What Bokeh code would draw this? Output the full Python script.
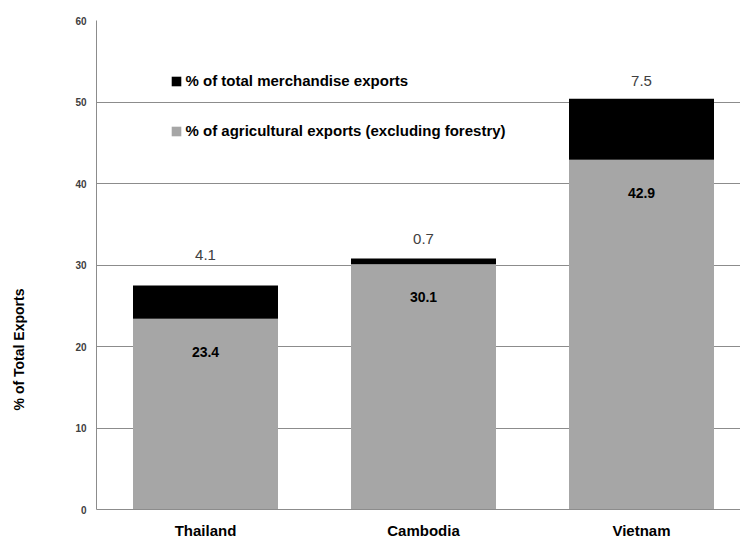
import math

from bokeh.core.properties import value
from bokeh.embed import file_html
from bokeh.layouts import row
from bokeh.models import (ColumnDataSource, FixedTicker, LabelSet, Legend,
                          LegendItem, Range1d)
from bokeh.plotting import figure
from bokeh.resources import INLINE

# Export shares by country (% of total exports)
countries = ["Thailand", "Cambodia", "Vietnam"]
agricultural = [23.4, 30.1, 42.9]   # % of agricultural exports (excluding forestry)
merchandise = [4.1, 0.7, 7.5]       # % of total merchandise exports
y_ticks = [0, 10, 20, 30, 40, 50, 60]
y_title = "% of Total Exports"

FONT = "Liberation Sans"
GRAY = "#a6a6a6"
LINE = "#8c8c8c"

xs = [i + 0.5 for i in range(len(countries))]
totals = [a + m for a, m in zip(agricultural, merchandise)]

src = ColumnDataSource(dict(
    x=xs,
    agri=agricultural,
    merch=merchandise,
    total=totals,
    agri_txt=[f"{v:.1f}" for v in agricultural],
    merch_txt=[f"{v:.1f}" for v in merchandise],
    top_off=[30, 19, 18],
))

# narrow side strip that carries the vertical axis title
TITLE_W = 36
side = figure(width=TITLE_W, height=541, output_backend="svg", toolbar_location=None,
              x_range=Range1d(0, TITLE_W), y_range=Range1d(0, 541),
              min_border=0)
side.axis.visible = False
side.grid.visible = False
side.outline_line_color = None
side.text(x=[TITLE_W / 2], y=[177], text=[y_title], angle=math.pi / 2,
          text_align="center", text_baseline="middle",
          text_font=value(FONT), text_font_style="bold",
          text_font_size="14px", text_color="black")

# each category slot is 218 px wide; the frame is 644 px
p = figure(width=740 - TITLE_W, height=541, output_backend="svg", toolbar_location=None,
           x_range=Range1d(0, 644 / 218), y_range=Range1d(0, 60),
           min_border_left=96 - TITLE_W, min_border_right=0, min_border_top=20,
           min_border_bottom=30)
p.outline_line_color = None
p.background_fill_color = "white"
p.border_fill_color = "white"

BAR_W = 145 / 218
gray_r = p.vbar(x="x", bottom=0, top="agri", width=BAR_W, source=src,
                fill_color=GRAY, line_color=None)
black_r = p.vbar(x="x", bottom="agri", top="total", width=BAR_W, source=src,
                 fill_color="black", line_color=None)

# value labels
p.add_layout(LabelSet(x="x", y="agri", text="agri_txt", source=src, y_offset=-33,
                      text_align="center", text_baseline="middle",
                      text_font=value(FONT), text_font_style="bold",
                      text_font_size="14px", text_color="black"))
p.add_layout(LabelSet(x="x", y="total", text="merch_txt", source=src, y_offset="top_off",
                      text_align="center", text_baseline="middle",
                      text_font=value(FONT), text_font_size="15px",
                      text_color="#404040"))

# axes
p.xaxis.ticker = FixedTicker(ticks=xs)
p.xaxis.major_label_overrides = {x: c for x, c in zip(xs, countries)}
p.xaxis.major_label_text_font = FONT
p.xaxis.major_label_text_font_style = "bold"
p.xaxis.major_label_text_font_size = "15px"
p.xaxis.major_label_text_color = "black"
p.xaxis.major_label_standoff = 12
p.xaxis.major_tick_out = 0
p.xaxis.major_tick_in = 0
p.xaxis.minor_tick_out = 0
p.xaxis.axis_line_color = LINE

p.yaxis.ticker = FixedTicker(ticks=y_ticks)
p.yaxis.major_label_text_font = FONT
p.yaxis.major_label_text_font_style = "bold"
p.yaxis.major_label_text_font_size = "10px"
p.yaxis.major_label_text_color = "#404040"
p.yaxis.major_label_standoff = 10
p.yaxis.major_tick_out = 0
p.yaxis.major_tick_in = 0
p.yaxis.minor_tick_out = 0
p.yaxis.minor_tick_in = 0
p.yaxis.axis_line_color = LINE

p.xgrid.grid_line_color = None
p.ygrid.ticker = FixedTicker(ticks=y_ticks)
p.ygrid.grid_line_color = LINE
p.ygrid.grid_line_width = 1

legend = Legend(items=[
    LegendItem(label="% of total merchandise exports", renderers=[black_r]),
    LegendItem(label="% of agricultural exports (excluding forestry)", renderers=[gray_r]),
], location=(73.5, 370))
legend.glyph_width = 12
legend.glyph_height = 12
legend.label_height = 12
legend.spacing = 33
legend.padding = 0
legend.margin = 0
legend.label_standoff = 4
legend.border_line_color = None
legend.background_fill_alpha = 0
legend.label_text_font = FONT
legend.label_text_font_style = "bold"
legend.label_text_font_size = "15px"
legend.label_text_color = "black"
p.add_layout(legend)

layout = row(side, p, spacing=0)
open("out.html", "w").write(file_html(layout, INLINE))
